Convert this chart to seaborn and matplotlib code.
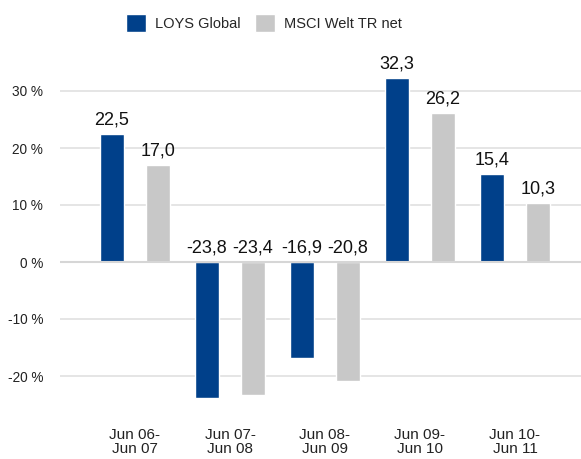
import matplotlib
matplotlib.use("Agg")
import matplotlib.pyplot as plt
import seaborn as sns
import pandas as pd

periods = ["Jun 06-\nJun 07", "Jun 07-\nJun 08", "Jun 08-\nJun 09", "Jun 09-\nJun 10", "Jun 10-\nJun 11"]
loys = [22.5, -23.8, -16.9, 32.3, 15.4]
msci = [17.0, -23.4, -20.8, 26.2, 10.3]
series_names = ["LOYS Global", "MSCI Welt TR net"]
yticks = [-20, -10, 0, 10, 20, 30]

df = pd.DataFrame({
    "period": periods * 2,
    "value": loys + msci,
    "series": [series_names[0]] * len(periods) + [series_names[1]] * len(periods),
})

sns.set_style("white")
plt.rcParams["font.family"] = ["Liberation Sans", "DejaVu Sans"]

fig = plt.figure(figsize=(5.81, 4.59), dpi=100)
ax = fig.add_axes([60 / 581, 1 - 404.5 / 459, 1 - 60 / 581, (404.5 - 62.5) / 459])

palette = {series_names[0]: "#00408a", series_names[1]: "#c8c8c8"}
sns.barplot(data=df, x="period", y="value", hue="series", palette=palette,
            width=0.97, gap=0.485, ax=ax, legend=True, saturation=1)

ax.set_ylim(-25, 35)
ax.set_xlim(-0.789, 4.695)
ax.set_yticks(yticks)
ax.set_yticklabels([f"{t} %" for t in yticks], fontsize=9.8, color="#222222")
ax.tick_params(axis="y", length=0, pad=12)
ax.tick_params(axis="x", length=0, pad=17, labelsize=11, labelcolor="#222222")
for lbl in ax.get_xticklabels():
    lbl.set_linespacing(1.0)
ax.set_xlabel("")
ax.set_ylabel("")
for s in ax.spines.values():
    s.set_visible(False)
ax.yaxis.grid(True, color="#e0e0e0", linewidth=1.2)
ax.set_axisbelow(True)
ax.axhline(0, color="#d6d6d6", linewidth=1.5, zorder=1)

for container in ax.containers:
    for bar in container:
        h = bar.get_height()
        x = bar.get_x() + bar.get_width() / 2
        y = h if h > 0 else 0
        ax.annotate(f"{h:.1f}".replace(".", ","), (x, y), xytext=(0, 4),
                    textcoords="offset points", ha="center", va="bottom",
                    fontsize=13, color="#111111")

handles, labels = ax.get_legend_handles_labels()
ax.legend_.remove()
fig.legend(handles, labels, loc="center", bbox_to_anchor=(264 / 581, 1 - 23 / 459), ncol=2,
           frameon=False, fontsize=10.5, handlelength=1.37, handleheight=1.5,
           columnspacing=1.03, handletextpad=0.62)

fig.savefig("out.png", dpi=100)
